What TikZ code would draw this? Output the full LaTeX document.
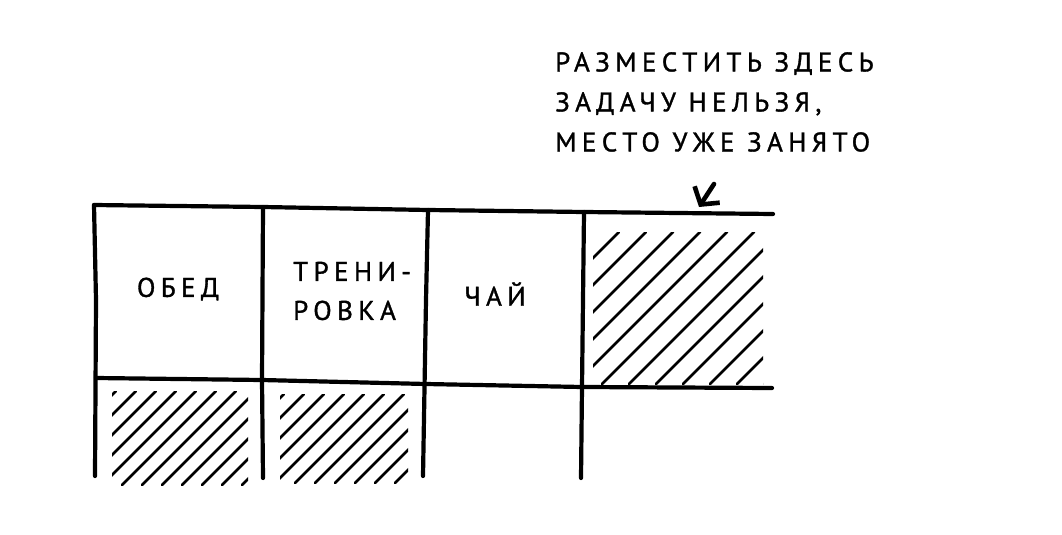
\documentclass[tikz,border=0pt]{standalone}
\usepackage{fontspec}
\setmainfont{PT Sans}
\newfontfamily\handfont[LetterSpace=20, FakeBold=1.3]{PT Sans}
\usetikzlibrary{positioning,arrows.meta,calc}

\begin{document}
\begin{tikzpicture}[
      x=1pt, y=-1pt,
      >=Stealth,
      grid/.style ={line width=4.2pt, line cap=round, line join=round,
                    draw=black},
      hatch/.style={line width=2.8pt, line cap=round, draw=black},
      lbl/.style  ={font=\handfont\fontsize{27}{39}\selectfont,
                    inner sep=0pt, align=center},
      note/.style ={font=\handfont\fontsize{27}{40}\selectfont,
                    inner sep=0pt, align=left, anchor=north west},
      arr/.style  ={-{Straight Barb[length=12pt, width=30pt]},
                    line width=4.6pt, line cap=round, line join=round}
    ]
    \useasboundingbox (0,0) rectangle (1062,535);
    % --- grid ---
    \draw[grid] (94,205) -- (263,207) -- (428,210) -- (584,212) -- (773,214);
    \draw[grid] (96,378) -- (262,380) -- (426,384) -- (582,387) -- (772,388);
    \draw[grid] (94,205) -- (96,300) -- (95,476);
    \draw[grid] (263,207) -- (262,380) -- (263,478);
    \draw[grid] (428,210) -- (426,300) -- (423,476);
    \draw[grid] (584,212) -- (582,387) -- (581,478);
    % --- hatched cells ---
    \begin{scope}
      \clip (593,232) rectangle (763,384);
      \foreach \a in {440,467,...,780}
        \draw[hatch] (\a,384) -- ++(152,-152);
    \end{scope}
    \begin{scope}
      \clip (112,391) rectangle (248,485);
      \foreach \a in {22,42,...,250}
        \draw[hatch] (\a,485) -- ++(94,-94);
    \end{scope}
    \begin{scope}
      \clip (280,394) rectangle (408,483);
      \foreach \a in {195,215,...,410}
        \draw[hatch] (\a,483) -- ++(89,-89);
    \end{scope}
    % --- labels ---
    \node[lbl] (lunch) at (178,289) {ОБЕД};
    \node[lbl, align=left, anchor=west] (training) at (293,291)
      {ТРЕНИ-\\РОВКА};
    \node[lbl] (tea) at (495,294) {ЧАЙ};
    \node[note] (busy) at (555,52)
      {РАЗМЕСТИТЬ ЗДЕСЬ\\ЗАДАЧУ НЕЛЬЗЯ,\\МЕСТО УЖЕ ЗАНЯТО};
    % --- arrow ---
    \coordinate (arrtail) at (714,184);
    \coordinate (arrtip)  at (699,207);
    \draw[arr] (arrtail) -- (arrtip);
  \end{tikzpicture}
\end{document}
